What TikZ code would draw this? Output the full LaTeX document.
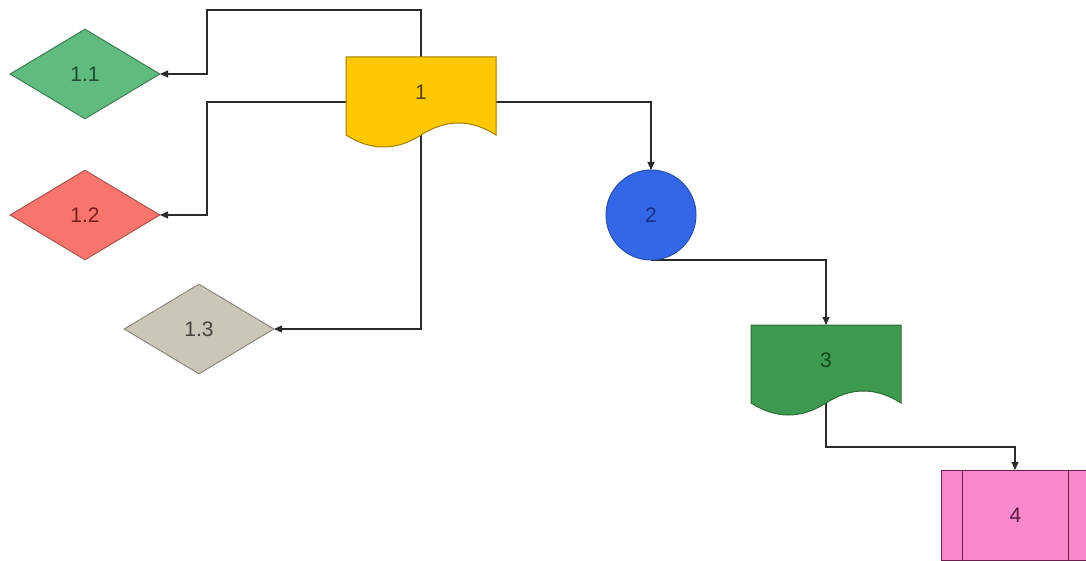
\documentclass[tikz,border=0pt]{standalone}
\usepackage{fontspec}
\setmainfont{Liberation Sans}
\usetikzlibrary{shapes.geometric,arrows.meta}
\definecolor{linec}{HTML}{2B2B2B}
\definecolor{dAfill}{HTML}{FFC800}\definecolor{dAdraw}{HTML}{A07E00}\definecolor{dAtext}{HTML}{5A4300}
\definecolor{gAfill}{HTML}{5FBB7F}\definecolor{gAdraw}{HTML}{3F7D55}\definecolor{gAtext}{HTML}{1F4D2F}
\definecolor{rAfill}{HTML}{F8756D}\definecolor{rAdraw}{HTML}{A85550}\definecolor{rAtext}{HTML}{7A1F1A}
\definecolor{sAfill}{HTML}{CAC7B8}\definecolor{sAdraw}{HTML}{8C8A7D}\definecolor{sAtext}{HTML}{44423A}
\definecolor{bAfill}{HTML}{3466E8}\definecolor{bAdraw}{HTML}{2A4FA8}\definecolor{bAtext}{HTML}{142F80}
\definecolor{tAfill}{HTML}{3E9A4E}\definecolor{tAdraw}{HTML}{2C6B37}\definecolor{tAtext}{HTML}{144A1D}
\definecolor{pAfill}{HTML}{F788CC}\definecolor{pAdraw}{HTML}{6A1F4A}\definecolor{pAtext}{HTML}{5A1A40}
\tikzset{
  conn/.style={draw=linec, line width=1.1pt, -{Triangle[length=8pt,width=7pt]}},
  lbl/.style={font=\fontsize{21}{24}\selectfont, inner sep=0pt},
  dia/.style={diamond, minimum width=150pt, minimum height=90pt, inner sep=0pt, line width=1pt, font=\fontsize{21}{24}\selectfont},
}
% document shape: #1 name, #2 left, #3 top, #4 fill, #5 draw, #6 text colour, #7 text
\newcommand\flowdoc[7]{%
  \filldraw[fill=#4, draw=#5, line width=1pt]
    (#2,#3) -- ({#2+150},#3) -- ({#2+150},{#3+78})
    .. controls ({#2+125},{#3+62}) and ({#2+100},{#3+62}) .. ({#2+75},{#3+78})
    .. controls ({#2+50},{#3+94}) and ({#2+25},{#3+94}) .. (#2,{#3+78}) -- cycle;
  \node[lbl, text=#6] (#1) at ({#2+75},{#3+35}) {#7};
}
\begin{document}
\begin{tikzpicture}[x=1pt,y=-1pt]
\useasboundingbox (0,0) rectangle (1086,561);
% connector end points
\coordinate (j1) at (421,10);
\coordinate (j2) at (207,10);
\coordinate (d1n) at (421,57);
\coordinate (d1s) at (421,135);
\coordinate (d1w) at (346,102);
\coordinate (d1e) at (496,102);
\coordinate (d3s) at (826,403);
\coordinate (e11) at (160,74);
\coordinate (e12) at (160,215);
\coordinate (e13) at (274,329);
\coordinate (e2n) at (651,170);
\coordinate (e2s) at (651,260);
\coordinate (e3n) at (826,325);
\coordinate (j3) at (1015,447);
\coordinate (e4n) at (1015,470);
\draw[conn] (d1n) -- (j1) -- (j2) |- (e11);
\draw[conn] (d1w) -- (207,102) |- (e12);
\draw[conn] (d1s) |- (e13);
\draw[conn] (d1e) -| (e2n);
\draw[conn] (e2s) -| (e3n);
\draw[conn] (d3s) |- (j3) -- (e4n);
% shapes
\flowdoc{d1}{346}{57}{dAfill}{dAdraw}{dAtext}{1}
\node[dia, fill=gAfill, draw=gAdraw, text=gAtext] (n11) at (85,74) {1.1};
\node[dia, fill=rAfill, draw=rAdraw, text=rAtext] (n12) at (85,215) {1.2};
\node[dia, fill=sAfill, draw=sAdraw, text=sAtext] (n13) at (199,329) {1.3};
\node[circle, minimum size=90pt, inner sep=0pt, fill=bAfill, draw=bAdraw, line width=1pt, text=bAtext, font=\fontsize{21}{24}\selectfont] (n2) at (651,215) {2};
\flowdoc{d3}{751}{325}{tAfill}{tAdraw}{tAtext}{3}
\node[rectangle, minimum width=149pt, minimum height=90pt, inner sep=0pt, fill=pAfill, draw=pAdraw, line width=1pt, text=pAtext, font=\fontsize{21}{24}\selectfont] (n4) at (1015.5,515) {4};
\draw[draw=pAdraw, line width=1pt] ([xshift=22pt]n4.north west) -- ([xshift=22pt]n4.south west);
\draw[draw=pAdraw, line width=1pt] ([xshift=-22pt]n4.north east) -- ([xshift=-22pt]n4.south east);
\end{tikzpicture}
\end{document}
